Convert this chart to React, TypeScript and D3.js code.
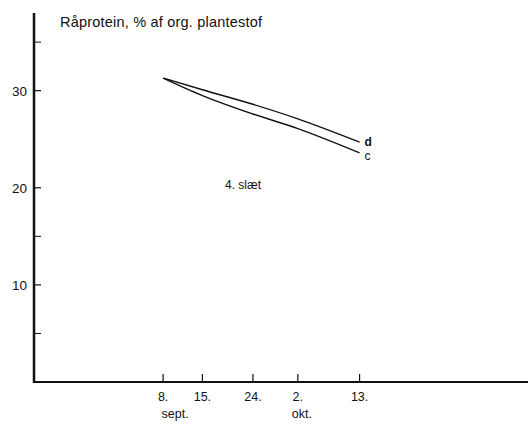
import React from "react";
import * as d3 from "d3";

// Harvest dates (4. slæt) and crude protein, % of organic plant matter
const dates = ["1900-09-08", "1900-09-15", "1900-09-24", "1900-10-02", "1900-10-13"];
const tickLabels = ["8.", "15.", "24.", "2.", "13."];
const seriesD = [31.3, 30.1, 28.6, 27.1, 24.7];
const seriesC = [31.3, 29.5, 27.6, 26.1, 23.6];
const yMajorTicks = [10, 20, 30];
const yMinorTicks = [5, 15, 35];

const W = 532;
const H = 424;
const font = "'Liberation Sans', Arial, sans-serif";

export default function App() {
  const parse = d3.timeParse("%Y-%m-%d");
  const dd = dates.map((s) => parse(s) as Date);

  const x = d3
    .scaleTime()
    .domain([parse("1900-08-16") as Date, parse("1900-11-12") as Date])
    .range([34, 528]);
  const y = d3.scaleLinear().domain([0, 38]).range([382, 13]);

  const line = d3
    .line<number>()
    .x((_, i) => x(dd[i]))
    .y((v) => y(v))
    .curve(d3.curveMonotoneX);

  const last = dd.length - 1;

  return (
    <svg
      width={W}
      height={H}
      style={{ position: "absolute", left: 0, top: 0, background: "#fff" }}
      fontFamily={font}
    >
      <rect width={W} height={H} fill="#fff" />
      <text x={60} y={27} fontSize={14.5} fill="#111" textLength={202} lengthAdjust="spacing">
        Råprotein, % af org. plantestof
      </text>

      {/* y axis */}
      <line x1={34} x2={34} y1={y(38)} y2={y(0) + 1} stroke="#111" strokeWidth={2.5} />
      {yMajorTicks.map((t) => (
        <g key={t}>
          <line x1={34} x2={41} y1={y(t)} y2={y(t)} stroke="#111" strokeWidth={1.2} />
          <text x={27} y={y(t) + 5} fontSize={13.5} textAnchor="end" fill="#111">
            {t}
          </text>
        </g>
      ))}
      {yMinorTicks.map((t) => (
        <line key={t} x1={34} x2={41} y1={y(t)} y2={y(t)} stroke="#111" strokeWidth={1} />
      ))}

      {/* x axis */}
      <line x1={33} x2={528} y1={y(0)} y2={y(0)} stroke="#111" strokeWidth={2} />
      {dd.map((d, i) => (
        <g key={i}>
          <line x1={x(d)} x2={x(d)} y1={y(0)} y2={y(0) - 8} stroke="#111" strokeWidth={1.2} />
          <text x={x(d)} y={401} fontSize={12.5} textAnchor="middle" fill="#111">
            {tickLabels[i]}
          </text>
        </g>
      ))}
      <text x={x(dd[0]) + 12} y={418} fontSize={12.5} textAnchor="middle" fill="#111">
        sept.
      </text>
      <text x={x(dd[3]) + 4} y={418} fontSize={12.5} textAnchor="middle" fill="#111">
        okt.
      </text>

      {/* series */}
      <path d={line(seriesD) || ""} fill="none" stroke="#111" strokeWidth={1.4} />
      <path d={line(seriesC) || ""} fill="none" stroke="#111" strokeWidth={1.4} />
      <text x={x(dd[last]) + 5} y={y(seriesD[last]) + 4} fontSize={12} fontWeight="bold" fill="#111">
        d
      </text>
      <text x={x(dd[last]) + 5} y={y(seriesC[last]) + 7} fontSize={12} fill="#111">
        c
      </text>

      <text x={243} y={189} fontSize={12} textAnchor="middle" fill="#111">
        4. slæt
      </text>
    </svg>
  );
}
